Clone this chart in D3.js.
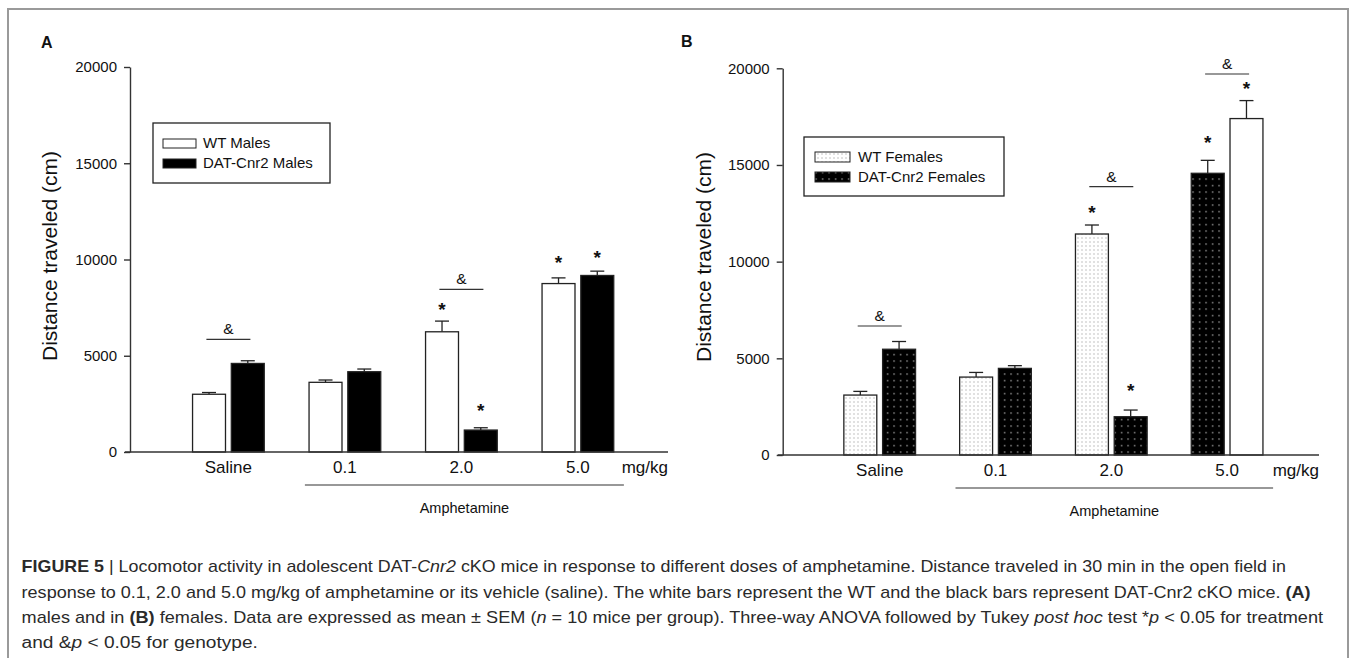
<!DOCTYPE html>
<html><head><meta charset="utf-8">
<script src="https://cdn.jsdelivr.net/npm/d3@7/dist/d3.min.js"></script>
<style>
body{margin:0;background:#fff}
svg{display:block}
text{font-family:"Liberation Sans", Arial, Helvetica, sans-serif;fill:#111}
</style>
</head><body>
<svg id="chart" width="1357" height="658"></svg>
<script>
// ---------- DATA ----------
const categories = ["Saline", "0.1", "2.0", "5.0"];
const doseUnit = "mg/kg";
const drugLabel = "Amphetamine";
const yTicks = [0, 5000, 10000, 15000, 20000];
const yLabel = "Distance traveled (cm)";

// Panel A (males)
const maleLegend = ["WT Males", "DAT-Cnr2 Males"];
const maleWT = [3000, 3620, 6245, 8750];
const maleWTErr = [90, 120, 555, 295];
const maleDAT = [4600, 4170, 1140, 9170];
const maleDATErr = [140, 140, 120, 225];
const maleGenotypeMarks = [["Saline", 5855], ["2.0", 8452]];           // "&" bar, value of line
const maleTreatmentMarks = [["2.0", 0, 7636], ["2.0", 1, 2390], ["5.0", 0, 10060], ["5.0", 1, 10355]]; // "*"

// Panel B (females) — values in left/right bar order
const femaleLegend = ["WT Females", "DAT-Cnr2 Females"];
const femaleLeft = [3100, 4030, 11430, 14570];
const femaleLeftErr = [190, 240, 465, 670];
const femaleRight = [5470, 4480, 1980, 17400];
const femaleRightErr = [400, 140, 345, 930];
const femaleGenotypeMarks = [["Saline", 6672], ["2.0", 13877], ["5.0", 19706]];
const femaleTreatmentMarks = [["2.0", 0, 12759], ["2.0", 1, 3569], ["5.0", 0, 16379], ["5.0", 1, 19172]];

const captionLines = [
  [["b", "FIGURE 5"], ["n", " | Locomotor activity in adolescent DAT-"], ["i", "Cnr2"], ["n", " cKO mice in response to different doses of amphetamine. Distance traveled in 30 min in the open field in"]],
  [["n", "response to 0.1, 2.0 and 5.0 mg/kg of amphetamine or its vehicle (saline). The white bars represent the WT and the black bars represent DAT-Cnr2 cKO mice. "], ["b", "(A)"]],
  [["n", "males and in "], ["b", "(B)"], ["n", " females. Data are expressed as mean \u00b1 SEM ("], ["i", "n"], ["n", " = 10 mice per group). Three-way ANOVA followed by Tukey "], ["i", "post hoc"], ["n", " test *"], ["i", "p"], ["n", " < 0.05 for treatment"]],
  [["n", "and &"], ["i", "p"], ["n", " < 0.05 for genotype."]]
];

// ---------- DRAW ----------
const svg = d3.select("#chart");
const defs = svg.append("defs");

const pl = defs.append("pattern").attr("id", "dotsLight").attr("patternUnits", "userSpaceOnUse")
  .attr("width", 4).attr("height", 4);
pl.append("rect").attr("width", 4).attr("height", 4).attr("fill", "#fff");
pl.append("rect").attr("x", 1.5).attr("y", 1.5).attr("width", 1).attr("height", 1).attr("fill", "#8a8a8a");

const pd = defs.append("pattern").attr("id", "dotsDark").attr("patternUnits", "userSpaceOnUse")
  .attr("width", 6.5).attr("height", 6.5);
pd.append("rect").attr("width", 6.5).attr("height", 6.5).attr("fill", "#000");
pd.append("rect").attr("x", 3).attr("y", 3).attr("width", 1.2).attr("height", 1.2).attr("fill", "#d8d8d8");

// frame
svg.append("rect").attr("x", 8).attr("y", 9).attr("width", 1340).attr("height", 700)
  .attr("fill", "none").attr("stroke", "#9a9a9a").attr("stroke-width", 2);

function drawPanel(cfg) {
  const g = svg.append("g");
  const y = d3.scaleLinear().domain([0, 20000]).range([cfg.yBottom, cfg.yTop]);
  const x0 = d3.scaleBand().domain(categories).range(cfg.bandRange).padding(0);
  const groupW = 71.7;
  const x1 = d3.scaleBand().domain([0, 1]).range([0, groupW]).paddingInner(0.15).paddingOuter(0);
  const gx = c => x0(c) + (x0.bandwidth() - groupW) / 2;
  const bw = x1.bandwidth();
  const center = c => x0(c) + x0.bandwidth() / 2;

  // panel letter
  g.append("text").attr("x", cfg.titleX).attr("y", cfg.titleY).text(cfg.title)
    .attr("font-size", 16).attr("font-weight", "bold");

  // y axis
  const ya = g.append("g").attr("transform", `translate(${cfg.axisX},0)`)
    .call(d3.axisLeft(y).tickValues(yTicks).tickFormat(d3.format("d")).tickSize(6).tickSizeOuter(0).tickPadding(7));
  ya.selectAll("text").attr("font-size", 15).attr("fill", "#111");
  ya.selectAll("line,path").attr("stroke", "#333").attr("stroke-width", 1.4);

  // y label
  g.append("text").attr("transform", `translate(${cfg.ylabelX},${cfg.ylabelY}) rotate(-90)`)
    .attr("text-anchor", "middle").attr("font-size", 21).text(yLabel);

  // bars
  const series = [[cfg.s0, cfg.e0], [cfg.s1, cfg.e1]];
  series.forEach(([vals, errs], s) => {
    categories.forEach((c, i) => {
      const xb = gx(c) + x1(s);
      const v = vals[i], e = errs[i];
      const xc = xb + bw / 2;
      g.append("line").attr("x1", xc).attr("x2", xc).attr("y1", y(v)).attr("y2", y(v + e))
        .attr("stroke", "#222").attr("stroke-width", 1.3);
      g.append("line").attr("x1", xc - 7).attr("x2", xc + 7).attr("y1", y(v + e)).attr("y2", y(v + e))
        .attr("stroke", "#222").attr("stroke-width", 1.3);
      g.append("rect").attr("x", xb).attr("y", y(v)).attr("width", bw).attr("height", y(0) - y(v))
        .attr("fill", cfg.fill(c, s)).attr("stroke", "#222").attr("stroke-width", 1.3);
    });
  });

  // x axis line
  g.append("line").attr("x1", cfg.axisX - 5).attr("x2", cfg.xEnd).attr("y1", y(0)).attr("y2", y(0))
    .attr("stroke", "#333").attr("stroke-width", 1.4);
  const xa = g.append("g").attr("transform", `translate(0,${y(0)})`)
    .call(d3.axisBottom(x0).tickSize(0).tickPadding(9));
  xa.select(".domain").remove();
  xa.selectAll("text").attr("font-size", 17).attr("fill", "#111");
  g.append("text").attr("x", cfg.xEnd).attr("y", y(0) + 21).attr("text-anchor", "end")
    .attr("font-size", 17).text(doseUnit);

  // amphetamine bracket
  const ax1 = center("0.1") - 40, ax2 = center("5.0") + 46;
  g.append("line").attr("x1", ax1).attr("x2", ax2).attr("y1", y(0) + 33).attr("y2", y(0) + 33)
    .attr("stroke", "#333").attr("stroke-width", 1.2);
  g.append("text").attr("x", (ax1 + ax2) / 2).attr("y", y(0) + 61).attr("text-anchor", "middle")
    .attr("font-size", 14.5).text(drugLabel);

  // genotype marks
  cfg.amp.forEach(([c, v]) => {
    const cx = center(c);
    g.append("line").attr("x1", cx - 22).attr("x2", cx + 22).attr("y1", y(v)).attr("y2", y(v))
      .attr("stroke", "#333").attr("stroke-width", 1.2);
    g.append("text").attr("x", cx).attr("y", y(v) - 5).attr("text-anchor", "middle")
      .attr("font-size", 15.5).text("&");
  });
  // treatment marks
  cfg.stars.forEach(([c, s, v]) => {
    g.append("text").attr("x", gx(c) + x1(s) + bw / 2).attr("y", y(v) + 11).attr("text-anchor", "middle")
      .attr("font-size", 19).attr("font-weight", "bold").text("*");
  });

  // legend
  const L = cfg.legend;
  g.append("rect").attr("x", L.x).attr("y", L.y).attr("width", L.w).attr("height", L.h)
    .attr("fill", "#fff").attr("stroke", "#222").attr("stroke-width", 1.3);
  cfg.legendLabels.forEach((lab, s) => {
    g.append("rect").attr("x", L.sx).attr("y", L.sy[s]).attr("width", L.sw).attr("height", L.sh)
      .attr("fill", cfg.legendFill[s]).attr("stroke", "#222").attr("stroke-width", 1);
    g.append("text").attr("x", L.tx).attr("y", L.sy[s] + L.sh).attr("font-size", 15).text(lab);
  });
}

drawPanel({
  title: "A", titleX: 41, titleY: 48,
  axisX: 130, yTop: 67, yBottom: 452, xEnd: 668, bandRange: [170.15, 636.15],
  ylabelX: 57, ylabelY: 256,
  s0: maleWT, e0: maleWTErr, s1: maleDAT, e1: maleDATErr,
  fill: (c, s) => s === 0 ? "#fff" : "#000",
  amp: maleGenotypeMarks, stars: maleTreatmentMarks,
  legendLabels: maleLegend, legendFill: ["#fff", "#000"],
  legend: { x: 153, y: 123, w: 177, h: 60, sx: 163, sw: 33, sh: 9, sy: [139, 159], tx: 203 }
});

drawPanel({
  title: "B", titleX: 681, titleY: 47,
  axisX: 782.7, yTop: 68.3, yBottom: 455, xEnd: 1319, bandRange: [821.8, 1285],
  ylabelX: 711, ylabelY: 257,
  s0: femaleLeft, e0: femaleLeftErr, s1: femaleRight, e1: femaleRightErr,
  fill: (c, s) => c === "5.0" ? (s === 0 ? "url(#dotsDark)" : "#fff") : (s === 0 ? "url(#dotsLight)" : "url(#dotsDark)"),
  amp: femaleGenotypeMarks, stars: femaleTreatmentMarks,
  legendLabels: femaleLegend, legendFill: ["url(#dotsLight)", "url(#dotsDark)"],
  legend: { x: 804, y: 137, w: 200, h: 59, sx: 815, sw: 35, sh: 10, sy: [152, 172], tx: 858 }
});

// caption
const capBase = [572, 597.5, 623, 648];
const capEnd = [1287, 1312, 1324, 258];
const capX = 21.6;
captionLines.forEach((parts, i) => {
  const t = svg.append("text").attr("x", 0).attr("y", 0).attr("font-size", 16)
    .style("fill", "#2a2a2a").attr("xml:space", "preserve").style("white-space", "pre");
  parts.forEach(([st, s]) => {
    const ts = t.append("tspan").text(s);
    if (st === "b") ts.attr("font-weight", "bold");
    if (st === "i") ts.attr("font-style", "italic");
  });
  const w = t.node().getComputedTextLength();
  const sx = (capEnd[i] - capX) / w;
  t.attr("transform", `translate(${capX},${capBase[i]}) scale(${sx},1)`);
});
</script>
</body></html>
